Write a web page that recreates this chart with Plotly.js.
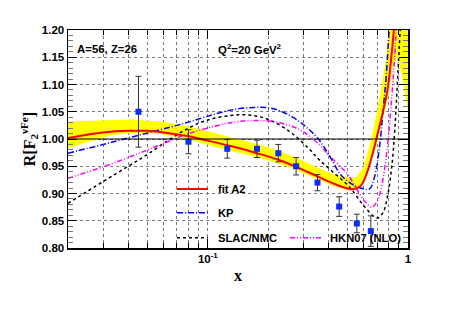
<!DOCTYPE html>
<html>
<head>
<meta charset="utf-8">
<script src="https://cdn.plot.ly/plotly-3.0.1.min.js"></script>
<style>html,body{margin:0;padding:0;background:#fff;}#chart{width:454px;height:311px;}</style>
</head>
<body>
<div id="chart"></div>
<script>
// ---- data points ----
const pointX = [0.045, 0.080, 0.125, 0.176, 0.225, 0.276, 0.353, 0.453, 0.555, 0.652];
const pointY = [1.050, 0.995, 0.982, 0.982, 0.974, 0.950, 0.920, 0.876, 0.845, 0.831];
const pointErr = [0.065, 0.022, 0.017, 0.016, 0.016, 0.016, 0.015, 0.018, 0.017, 0.028];

// ---- fit A2 ----
const fitX = [0.02, 0.025, 0.03, 0.04, 0.05, 0.06, 0.08, 0.1, 0.13, 0.176, 0.225, 0.276, 0.35, 0.42, 0.48, 0.53, 0.58, 0.62, 0.66, 0.7, 0.75, 0.79, 0.82, 0.85, 0.87];
const fitY = [1.002, 1.008, 1.012, 1.015, 1.015, 1.012, 1.005, 0.997, 0.987, 0.974, 0.962, 0.949, 0.932, 0.919, 0.911, 0.908, 0.914, 0.935, 0.968, 1.005, 1.050, 1.090, 1.140, 1.200, 1.250];

// ---- fit A2 uncertainty band ----
const bandUpperX = [0.02, 0.03, 0.041, 0.058, 0.08, 0.1, 0.13, 0.176, 0.225, 0.276, 0.35, 0.42, 0.5, 0.55, 0.6, 0.65, 0.7, 0.74, 0.78, 0.8, 0.82];
const bandUpperY = [1.032, 1.035, 1.036, 1.032, 1.023, 1.014, 1.003, 0.991, 0.979, 0.966, 0.948, 0.936, 0.930, 0.930, 0.948, 0.995, 1.050, 1.100, 1.150, 1.200, 1.250];
const bandLowerX = [0.02, 0.027, 0.033, 0.041, 0.058, 0.08, 0.1, 0.13, 0.176, 0.225, 0.276, 0.35, 0.42, 0.5, 0.55, 0.6, 0.65, 0.7, 0.75, 0.8, 0.84, 0.88, 0.93, 0.97, 1.0, 1.0];
const bandLowerY = [0.983, 0.998, 1.007, 1.011, 1.009, 0.999, 0.990, 0.978, 0.967, 0.955, 0.943, 0.927, 0.914, 0.906, 0.907, 0.920, 0.955, 0.990, 1.040, 1.080, 1.130, 1.150, 1.120, 1.080, 1.050, 1.250];

// ---- KP ----
const kpX = [0.02, 0.03, 0.04, 0.05, 0.065, 0.08, 0.1, 0.13, 0.17, 0.21, 0.26, 0.31, 0.36, 0.41, 0.46, 0.52, 0.58, 0.64, 0.68, 0.72, 0.75, 0.78, 0.81];
const kpY = [0.974, 0.990, 1.002, 1.011, 1.022, 1.031, 1.042, 1.053, 1.058, 1.056, 1.042, 1.022, 0.998, 0.966, 0.935, 0.918, 0.910, 0.908, 0.930, 0.985, 1.050, 1.120, 1.220];

// ---- SLAC/NMC ----
const slacX = [0.02, 0.03, 0.04, 0.05, 0.065, 0.08, 0.1, 0.13, 0.16, 0.2, 0.26, 0.32, 0.36, 0.42, 0.51, 0.6, 0.7, 0.75, 0.79, 0.83, 0.86, 0.89, 0.92];
const slacY = [0.882, 0.922, 0.950, 0.972, 1.000, 1.020, 1.035, 1.043, 1.044, 1.036, 1.012, 0.982, 0.962, 0.940, 0.912, 0.878, 0.855, 0.865, 0.895, 0.950, 1.020, 1.120, 1.220];

// ---- HKN07 (NLO) ----
const hknX = [0.02, 0.03, 0.04, 0.05, 0.065, 0.08, 0.1, 0.13, 0.17, 0.21, 0.26, 0.3, 0.36, 0.41, 0.5, 0.56, 0.62, 0.66, 0.7, 0.74, 0.78, 0.81, 0.85, 0.88];
const hknY = [0.928, 0.949, 0.966, 0.980, 0.997, 1.010, 1.020, 1.030, 1.034, 1.032, 1.024, 1.013, 0.990, 0.967, 0.935, 0.905, 0.882, 0.875, 0.885, 0.915, 0.970, 1.030, 1.130, 1.220];

// ---- ticks / labels ----
const xMajorTicks = [0.1, 1];
const xMajorLabels = ['10<sup>-1</sup>', '1'];
const xMinorTicks = [0.03, 0.04, 0.05, 0.06, 0.07, 0.08, 0.09, 0.2, 0.3, 0.4, 0.5, 0.6, 0.7, 0.8, 0.9];
const yTicks = [0.80, 0.85, 0.90, 0.95, 1.00, 1.05, 1.10, 1.15, 1.20];
const legendNames = ['fit A2', 'KP', 'SLAC/NMC', 'HKN07 (NLO)'];

const SANS = 'Liberation Sans, Arial, sans-serif';
const SERIF = 'Liberation Serif, Times New Roman, serif';
const GRID = '#7a7a7a';

const traces = [
  {
    x: bandUpperX.concat(bandLowerX.slice().reverse()),
    y: bandUpperY.concat(bandLowerY.slice().reverse()),
    mode: 'lines', fill: 'toself', fillcolor: '#ffff00',
    line: {width: 0, color: '#ffff00'}, hoverinfo: 'skip'
  },
  {x: slacX, y: slacY, mode: 'lines', line: {color: '#000000', width: 1.5, dash: '3px,3px', shape: 'spline'}},
  {x: hknX, y: hknY, mode: 'lines', line: {color: '#ff00ff', width: 1.5, dash: '5px,2px,1px,2px,1px,2px', shape: 'spline'}},
  {x: kpX, y: kpY, mode: 'lines', line: {color: '#0000ff', width: 1.5, dash: '6px,2px,1px,2px', shape: 'spline'}},
  {x: fitX, y: fitY, mode: 'lines', line: {color: '#ff0000', width: 2, shape: 'spline'}},
  {
    x: pointX, y: pointY, mode: 'markers',
    marker: {symbol: 'square', size: 6, color: '#0a2cff'},
    error_y: {type: 'data', array: pointErr, color: '#333333', thickness: 1, width: 3}
  }
];

// legend geometry (paper coords)
const legRows = [0.2706, 0.162, 0.0472, 0.0472];
const legX0 = [0.3206, 0.3206, 0.3206, 0.653];
const legX1 = [0.4118, 0.4118, 0.4118, 0.750];
const legTextX = [0.435, 0.435, 0.435, 0.765];
const legStyles = [
  {color: '#ff0000', width: 2, dash: 'solid'},
  {color: '#0000ff', width: 1.5, dash: '6px,2px,1px,2px'},
  {color: '#000000', width: 1.5, dash: '3px,3px'},
  {color: '#ff00ff', width: 1.5, dash: '5px,2px,1px,2px,1px,2px'}
];

const shapes = [
  {type: 'line', xref: 'paper', x0: 0, x1: 1, yref: 'y', y0: 1, y1: 1, line: {color: '#000', width: 1}}
];
const annotations = [
  {xref: 'paper', yref: 'paper', x: 0.022, y: 0.913, xanchor: 'left', yanchor: 'middle', showarrow: false,
   text: 'A=56, Z=26', font: {family: SANS, size: 11.4, weight: 'bold', color: '#000'}},
  {xref: 'paper', yref: 'paper', x: 0.435, y: 0.913, xanchor: 'left', yanchor: 'middle', showarrow: false,
   text: 'Q<sup>2</sup>=20 GeV<sup>2</sup>', font: {family: SANS, size: 11.4, weight: 'bold', color: '#000'}}
];
for (let i = 0; i < legendNames.length; i++) {
  shapes.push({type: 'line', xref: 'paper', yref: 'paper', x0: legX0[i], x1: legX1[i], y0: legRows[i], y1: legRows[i], line: legStyles[i]});
  annotations.push({xref: 'paper', yref: 'paper', x: legTextX[i], y: legRows[i], xanchor: 'left', yanchor: 'middle',
    showarrow: false, text: legendNames[i], font: {family: SANS, size: 11.2, weight: 'bold', color: '#000'}});
}

const layout = {
  width: 454, height: 311,
  margin: {l: 68, r: 46, t: 30, b: 63},
  paper_bgcolor: '#fff', plot_bgcolor: '#fff',
  showlegend: false,
  xaxis: {
    type: 'log', range: [Math.log10(0.02), 0],
    tickmode: 'array', tickvals: xMajorTicks, ticktext: xMajorLabels,
    ticks: 'inside', ticklen: 9, tickwidth: 1, tickcolor: '#000',
    showline: true, linecolor: '#000', linewidth: 1.5, mirror: 'allticks',
    showgrid: true, gridcolor: GRID, griddash: 'dot', gridwidth: 1,
    minor: {tickmode: 'array', tickvals: xMinorTicks, ticks: 'inside', ticklen: 5, tickcolor: '#000',
            showgrid: true, gridcolor: GRID, griddash: 'dot', gridwidth: 1},
    zeroline: false,
    tickfont: {family: SANS, size: 11.5, weight: 'bold', color: '#000'},
    title: {text: 'x', font: {family: SERIF, size: 16, weight: 'bold', color: '#000'}, standoff: 5}
  },
  yaxis: {
    range: [0.8, 1.2],
    tickmode: 'array', tickvals: yTicks, tickformat: '.2f',
    ticks: 'inside', ticklen: 9, tickwidth: 1, tickcolor: '#000',
    showline: true, linecolor: '#000', linewidth: 1.5, mirror: 'allticks',
    showgrid: true, gridcolor: GRID, griddash: 'dot', gridwidth: 1,
    minor: {dtick: 0.01, tick0: 0.8, ticks: 'inside', ticklen: 5, tickcolor: '#777', showgrid: false},
    zeroline: false,
    tickfont: {family: SANS, size: 11.5, weight: 'bold', color: '#000'},
    title: {text: 'R[F<sub>2</sub><sup>νFe</sup>]', font: {family: SERIF, size: 16, weight: 'bold', color: '#000'}, standoff: 2}
  },
  shapes: shapes,
  annotations: annotations
};

Plotly.newPlot('chart', traces, layout, {staticPlot: true, displayModeBar: false});
</script>
</body>
</html>
